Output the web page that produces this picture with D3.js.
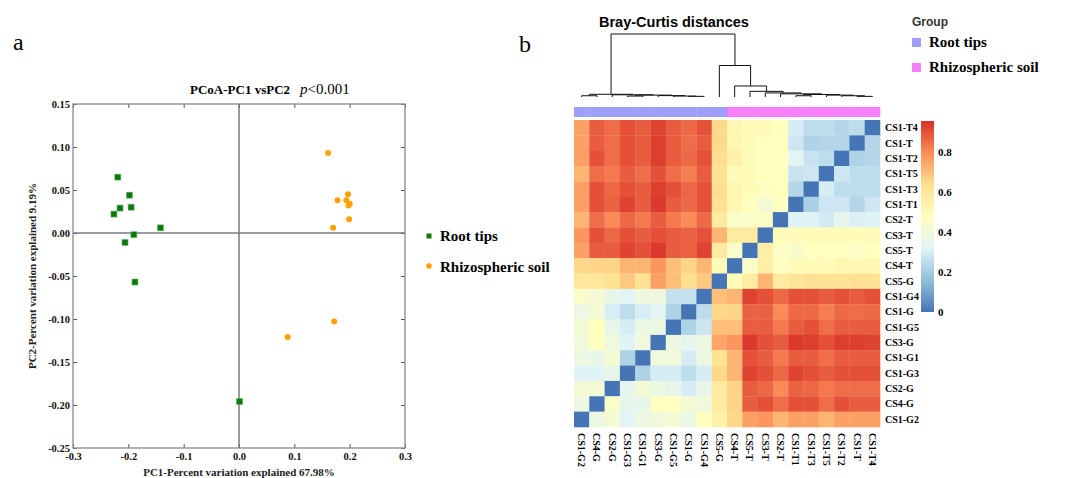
<!DOCTYPE html>
<html><head><meta charset="utf-8">
<script src="https://cdn.jsdelivr.net/npm/d3@7"></script>
<style>body{margin:0;background:#fff} svg{display:block}</style>
</head><body>
<svg id="c" width="1067" height="478"></svg>
<script>
// ---------- Panel a: PCoA data ----------
const pc1Root  = [-0.219,-0.198,-0.215,-0.195,-0.226,-0.142,-0.190,-0.206,-0.188,0.001];
const pc2Root  = [0.065,0.044,0.029,0.030,0.022,0.006,-0.002,-0.011,-0.057,-0.196];
const pc1Rhizo = [0.161,0.197,0.178,0.194,0.200,0.198,0.199,0.170,0.172,0.088];
const pc2Rhizo = [0.093,0.045,0.038,0.038,0.034,0.032,0.016,0.006,-0.103,-0.121];
const xTicks = [-0.3,-0.2,-0.1,0.0,0.1,0.2,0.3];
const yTicks = [0.15,0.10,0.05,0.00,-0.05,-0.10,-0.15,-0.20,-0.25];
const groupNames = ["Root tips","Rhizospheric soil"];

// ---------- Panel b: Bray-Curtis heatmap data ----------
const samples = ["CS1-G2","CS4-G","CS2-G","CS1-G3","CS1-G1","CS3-G","CS1-G5","CS1-G","CS1-G4","CS5-G",
                 "CS4-T","CS5-T","CS3-T","CS2-T","CS1-T1","CS1-T3","CS1-T5","CS1-T2","CS1-T","CS1-T4"];
const sampleGroup = [0,0,0,0,0,0,0,0,0,0,1,1,1,1,1,1,1,1,1,1];
const rowSamples = ["CS1-T4","CS1-T","CS1-T2","CS1-T5","CS1-T3","CS1-T1","CS2-T","CS3-T","CS5-T","CS4-T",
                    "CS5-G","CS1-G4","CS1-G","CS1-G5","CS3-G","CS1-G1","CS1-G3","CS2-G","CS4-G","CS1-G2"];
// rows top->bottom (rowSamples), columns left->right (samples)
const distances = [
 [0.76,0.88,0.85,0.90,0.88,0.92,0.88,0.86,0.90,0.65, 0.52,0.50,0.50,0.48,0.30,0.25,0.25,0.23,0.25,0.00],
 [0.76,0.88,0.85,0.90,0.88,0.93,0.88,0.85,0.88,0.65, 0.52,0.50,0.48,0.48,0.28,0.22,0.23,0.23,0.00,0.23],
 [0.76,0.90,0.85,0.90,0.88,0.93,0.88,0.86,0.90,0.64, 0.55,0.50,0.48,0.48,0.33,0.27,0.25,0.00,0.22,0.23],
 [0.72,0.85,0.83,0.88,0.85,0.90,0.85,0.82,0.88,0.62, 0.50,0.50,0.48,0.48,0.27,0.28,0.00,0.28,0.25,0.25],
 [0.76,0.90,0.86,0.90,0.88,0.93,0.90,0.86,0.90,0.64, 0.52,0.50,0.47,0.48,0.23,0.00,0.30,0.25,0.25,0.25],
 [0.76,0.90,0.87,0.92,0.88,0.94,0.88,0.86,0.90,0.62, 0.52,0.48,0.42,0.47,0.00,0.21,0.28,0.28,0.23,0.28],
 [0.72,0.85,0.80,0.86,0.83,0.88,0.83,0.80,0.86,0.58, 0.45,0.45,0.46,0.00,0.32,0.32,0.29,0.35,0.31,0.32],
 [0.78,0.90,0.86,0.90,0.88,0.90,0.88,0.87,0.90,0.72, 0.58,0.58,0.00,0.50,0.50,0.50,0.50,0.50,0.50,0.50],
 [0.76,0.88,0.88,0.92,0.90,0.94,0.88,0.87,0.92,0.58, 0.45,0.00,0.56,0.46,0.44,0.48,0.48,0.48,0.46,0.48],
 [0.65,0.66,0.66,0.72,0.72,0.78,0.70,0.66,0.72,0.50, 0.00,0.45,0.56,0.47,0.50,0.50,0.50,0.52,0.52,0.52],
 [0.60,0.60,0.62,0.68,0.62,0.76,0.70,0.64,0.68,0.00, 0.50,0.57,0.72,0.58,0.61,0.63,0.62,0.62,0.63,0.62],
 [0.45,0.42,0.36,0.33,0.39,0.39,0.26,0.26,0.00,0.70, 0.72,0.92,0.90,0.86,0.90,0.90,0.88,0.90,0.88,0.90],
 [0.38,0.42,0.30,0.25,0.30,0.33,0.22,0.00,0.25,0.65, 0.66,0.87,0.87,0.80,0.86,0.86,0.82,0.86,0.85,0.86],
 [0.42,0.48,0.36,0.30,0.38,0.38,0.00,0.22,0.28,0.70, 0.70,0.88,0.88,0.83,0.88,0.90,0.85,0.88,0.88,0.88],
 [0.40,0.48,0.40,0.32,0.40,0.00,0.38,0.35,0.38,0.75, 0.78,0.94,0.90,0.88,0.94,0.93,0.90,0.93,0.93,0.92],
 [0.38,0.36,0.42,0.22,0.00,0.40,0.40,0.30,0.38,0.62, 0.72,0.90,0.88,0.83,0.88,0.88,0.85,0.88,0.88,0.88],
 [0.32,0.32,0.36,0.00,0.22,0.30,0.30,0.25,0.30,0.65, 0.72,0.92,0.90,0.86,0.92,0.90,0.88,0.90,0.90,0.90],
 [0.42,0.42,0.00,0.35,0.42,0.38,0.36,0.30,0.36,0.58, 0.66,0.88,0.86,0.80,0.87,0.86,0.83,0.85,0.85,0.85],
 [0.38,0.00,0.45,0.35,0.36,0.48,0.48,0.42,0.40,0.58, 0.66,0.88,0.90,0.85,0.90,0.90,0.85,0.90,0.88,0.88],
 [0.00,0.38,0.42,0.33,0.38,0.40,0.42,0.38,0.48,0.55, 0.65,0.76,0.78,0.72,0.76,0.76,0.72,0.76,0.76,0.76]
];
const heatColors = ["#4575B4","#91BFDB","#E0F3F8","#FFFFBF","#FEE090","#FC8D59","#D73027"];
const heatMax = 0.955;
const colorbarTicks = [0,0.2,0.4,0.6,0.8];
// dendrogram: nested merges, h = relative merge height
const dendro = {h:1.0, c:[
  {h:0.043, c:[
     {h:0.02, c:["CS1-G2","CS4-G"]},
     {h:0.035, c:["CS2-G",
        {h:0.03, c:[{h:0.015, c:["CS1-G3","CS1-G1"]},
                    {h:0.022, c:["CS3-G",{h:0.015, c:["CS1-G5",{h:0.01, c:["CS1-G","CS1-G4"]}]}]}]}]}]},
  {h:0.5, c:["CS5-G",
     {h:0.175, c:["CS4-T",
        {h:0.09, c:["CS5-T",
           {h:0.065, c:["CS3-T",
              {h:0.05, c:["CS2-T",
                 {h:0.04, c:[{h:0.02, c:["CS1-T1","CS1-T3"]},
                             {h:0.03, c:["CS1-T5",{h:0.02, c:["CS1-T2",{h:0.01, c:["CS1-T","CS1-T4"]}]}]}]}]}]}]}]}]}
]};

const svg = d3.select("#c");
const serif = "'Liberation Serif','Times New Roman',serif";
const sans = "'Liberation Sans',Arial,sans-serif";
const hyph = s => s.replace("\u2212","-");

// ================= Panel a =================
svg.append("text").attr("x",13).attr("y",50).attr("font-family",serif).attr("font-size",24).text("a");
const x = d3.scaleLinear([-0.3,0.3],[73,405]);
const y = d3.scaleLinear([-0.25,0.15],[448,104]);
const pa = svg.append("g");
const axStyle = g => { g.select(".domain").remove(); g.selectAll("line").attr("stroke","#555");
  g.selectAll("text").attr("font-family",serif).attr("font-weight","bold").attr("font-size",10.5).attr("fill","#111"); };
pa.append("g").attr("transform","translate(73,0)")
  .call(d3.axisLeft(y).tickValues(yTicks).tickSizeInner(-4).tickSizeOuter(0).tickPadding(3).tickFormat(d=>hyph(d3.format(".2f")(d)))).call(axStyle);
pa.append("g").attr("transform","translate(405,0)")
  .call(d3.axisRight(y).tickValues(yTicks).tickSizeInner(-4).tickSizeOuter(0).tickFormat("")).call(axStyle);
pa.append("g").attr("transform","translate(0,448)")
  .call(d3.axisBottom(x).tickValues(xTicks).tickSizeInner(-4).tickSizeOuter(0).tickPadding(5).tickFormat(d=>hyph(d3.format(".1f")(d)))).call(axStyle);
pa.append("g").attr("transform","translate(0,104)")
  .call(d3.axisTop(x).tickValues(xTicks).tickSizeInner(-4).tickSizeOuter(0).tickFormat("")).call(axStyle);
pa.append("rect").attr("x",73).attr("y",104).attr("width",332).attr("height",344)
  .attr("fill","none").attr("stroke","#8a8a8a").attr("stroke-width",1.3);
pa.append("line").attr("x1",x(0)).attr("x2",x(0)).attr("y1",104).attr("y2",448).attr("stroke","#7a7a7a").attr("stroke-width",1.5);
pa.append("line").attr("x1",73).attr("x2",405).attr("y1",y(0)).attr("y2",y(0)).attr("stroke","#7a7a7a").attr("stroke-width",1.5);

pa.selectAll(".sq").data(d3.range(pc1Root.length)).join("rect")
  .attr("x",i=>x(pc1Root[i])-3).attr("y",i=>y(pc2Root[i])-3).attr("width",6).attr("height",6)
  .attr("fill","#0a7a0a").attr("stroke","#6fb56f").attr("stroke-width",0.6);
pa.selectAll(".ci").data(d3.range(pc1Rhizo.length)).join("circle")
  .attr("cx",i=>x(pc1Rhizo[i])).attr("cy",i=>y(pc2Rhizo[i])).attr("r",3).attr("fill","#ffa000");

pa.append("text").attr("x",190).attr("y",94).attr("font-family",serif).attr("font-weight","bold").attr("font-size",13).text("PCoA-PC1 vsPC2");
const pt = pa.append("text").attr("x",300).attr("y",94).attr("font-family",serif).attr("font-size",15);
pt.append("tspan").attr("font-style","italic").text("p");
pt.append("tspan").text("<0.001");
pa.append("text").attr("x",(73+405)/2).attr("y",476).attr("text-anchor","middle").attr("font-family",serif)
  .attr("font-weight","bold").attr("font-size",11).attr("fill","#222").text("PC1-Percent variation explained 67.98%");
pa.append("text").attr("transform",`translate(36,${(104+448)/2}) rotate(-90)`).attr("text-anchor","middle").attr("font-family",serif)
  .attr("font-weight","bold").attr("font-size",11).attr("fill","#222").text("PC2-Percent variation explained 9.19%");
// legend a
pa.append("rect").attr("x",426.5).attr("y",233.5).attr("width",5).attr("height",5).attr("fill","#0a7a0a");
pa.append("circle").attr("cx",429).attr("cy",266).attr("r",2.8).attr("fill","#ffa000");
pa.selectAll(".lg").data(groupNames).join("text").attr("x",440).attr("y",(d,i)=>241+i*31)
  .attr("font-family",serif).attr("font-weight","bold").attr("font-size",15).text(d=>d);

// ================= Panel b =================
svg.append("text").attr("x",519).attr("y",52).attr("font-family",serif).attr("font-size",24).text("b");
const hx = d3.scaleBand(samples,[574,880]);
const hy = d3.scaleBand(rowSamples,[120,427]);
const col = d3.scaleLinear().domain(heatColors.map((c,i)=>i*heatMax/(heatColors.length-1))).range(heatColors).interpolate(d3.interpolateRgb);
const pb = svg.append("g");
const cells = [];
rowSamples.forEach((r,i)=>samples.forEach((c,j)=>cells.push({r,c,v:distances[i][j]})));
pb.selectAll(".cell").data(cells).join("rect")
  .attr("x",d=>hx(d.c)).attr("y",d=>hy(d.r)).attr("width",hx.bandwidth()+0.3).attr("height",hy.bandwidth()+0.3)
  .attr("fill",d=>col(d.v));
// group bar
const groupColors = ["#9d9ff8","#f57ff6"];
pb.selectAll(".grp").data(samples).join("rect")
  .attr("x",d=>hx(d)).attr("y",107).attr("width",hx.bandwidth()+0.3).attr("height",10)
  .attr("fill",(d,i)=>groupColors[sampleGroup[i]]);
// row labels
pb.selectAll(".rl").data(rowSamples).join("text").attr("x",885).attr("y",d=>hy(d)+hy.bandwidth()/2)
  .attr("dominant-baseline","central").attr("font-family",serif).attr("font-weight","bold").attr("font-size",10).text(d=>d);
// column labels
pb.selectAll(".cl").data(samples).join("text")
  .attr("transform",d=>`translate(${hx(d)+hx.bandwidth()/2},433) rotate(90)`)
  .attr("dominant-baseline","central").attr("font-family",serif).attr("font-weight","bold").attr("font-size",10).text(d=>d);
// dendrogram
const hY = d3.scaleLinear([0,1],[97,34]);
const segs = [];
function lay(n){
  if (typeof n === "string") return {x:hx(n)+hx.bandwidth()/2, y:hY(0)};
  const a = lay(n.c[0]), b = lay(n.c[1]);
  const yy = hY(n.h);
  segs.push([[a.x,a.y],[a.x,yy],[b.x,yy],[b.x,b.y]]);
  return {x:(a.x+b.x)/2, y:yy};
}
lay(dendro);
pb.selectAll(".dn").data(segs).join("path").attr("d",d=>d3.line()(d)).attr("fill","none").attr("stroke","#111").attr("stroke-width",1);
pb.append("text").attr("x",599).attr("y",27).attr("font-family",sans).attr("font-weight","bold").attr("font-size",14.5).text("Bray-Curtis distances");
// colorbar
const cbY = d3.scaleLinear([0,heatMax],[312,121]);
const grad = svg.append("defs").append("linearGradient").attr("id","cb").attr("x1",0).attr("x2",0).attr("y1",1).attr("y2",0);
grad.selectAll("stop").data(heatColors).join("stop").attr("offset",(d,i)=>i/(heatColors.length-1)).attr("stop-color",d=>d);
pb.append("rect").attr("x",921).attr("y",cbY(heatMax)).attr("width",13).attr("height",cbY(0)-cbY(heatMax)).attr("fill","url(#cb)");
pb.selectAll(".cbt").data(colorbarTicks).join("text").attr("x",938).attr("y",d=>cbY(d))
  .attr("dominant-baseline","central").attr("font-family",serif).attr("font-weight","bold").attr("font-size",11).text(d=>d);
// group legend
pb.append("text").attr("x",912).attr("y",26).attr("font-family",sans).attr("font-weight","bold").attr("font-size",12).attr("fill","#333").text("Group");
pb.selectAll(".gls").data(groupNames).join("rect").attr("x",912).attr("y",(d,i)=>38+i*25).attr("width",9).attr("height",9).attr("fill",(d,i)=>groupColors[i]);
pb.selectAll(".glt").data(groupNames).join("text").attr("x",929).attr("y",(d,i)=>47+i*25)
  .attr("font-family",serif).attr("font-weight","bold").attr("font-size",15).text(d=>d);
</script>
</body></html>
